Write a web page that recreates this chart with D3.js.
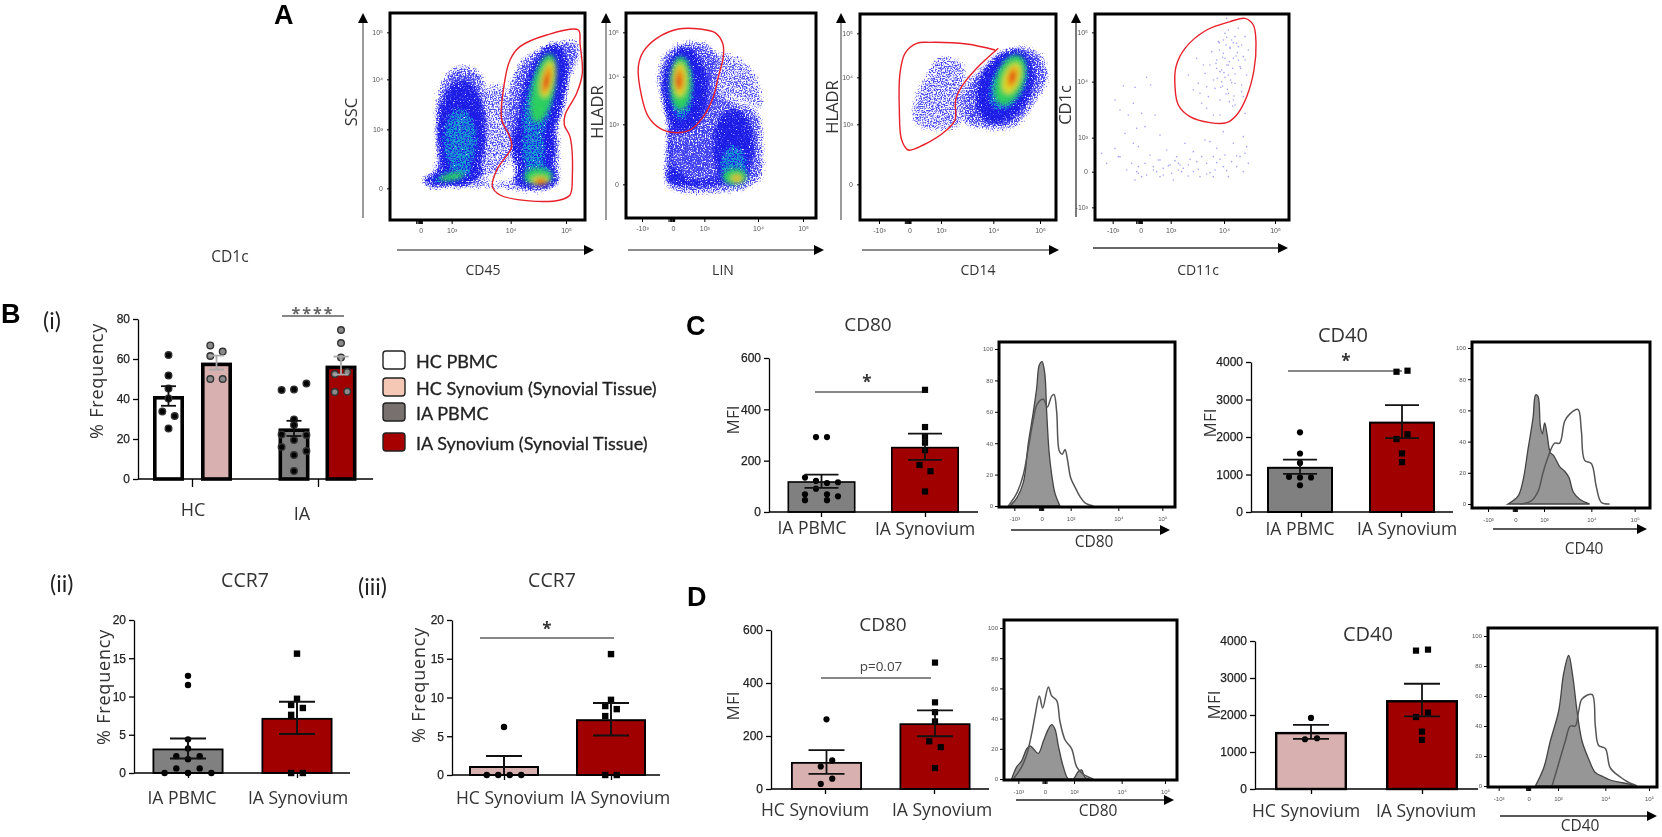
<!DOCTYPE html>
<html>
<head>
<meta charset="utf-8">
<title>CD1c figure</title>
<script src="https://cdn.jsdelivr.net/npm/d3@7"></script>
<style>
  html, body { margin: 0; padding: 0; background: #fff; overflow: hidden; }
  svg { display: block; filter: blur(0.35px); }
  .lbl { font-family: "Open Sans", sans-serif; fill: #333; }
  .tick-num { font-family: "Liberation Sans", sans-serif; }
</style>
</head>
<body>
<div id="chart"></div>
<script>
// ---- bar chart values, rows = dots lying side by side (null = empty slot)
const freqMeans = [41.5, 58.2, 25.3, 56.7];
const freqSems = [4.9, 3.5, 3.8, 4.5];
const freqRows = [
  [[62], [51.8], [45.3], [40.3], [33.7, null], [null, 31.5], [25.3]],
  [[66.8, null], [null, 63.7], [61.5, null], [50, 50]],
  [[44.5, 44.8, 47.7], [29.8], [27], [22.3, null, 22], [19.5], [16, null, 14], [12], [4]],
  [[74.5], [68], [60.8], [52.5, 53.5], [43.5, 43.7]]
];
const ccr7PbmcRows = [[12.7], [11.5], [4.4], [3.2], [2.2, 1.8, 2.2], [0.6, null, 0.6], [0, null, 0, null, 0]];
const ccr7SynRows = [[15.6], [9.7], [8.9, 8.5], [7.6, null], [0, 0]];
const ccr7HcRows = [[6.2], [0, 0, 0, 0]];
const cd80PbmcRows = [[null, 292, 292, null], [134, null, null, null], [null, 121, 113, 116], [null, 91, null, null], [69, null, 69, null], [null, null, null, 61], [46, null, 46, null]];
const cd80SynRows = [[476], [331], [293], [270], [241], [183, null], [null, 159], [80]];
const cd40PbmcRows = [[2125], [1560], [1310], [937, 920, 920], [714]];
const cd40SynRows = [[3740, 3768], [1946, 2071], [1562], [1330]];
const cd80HcRows = [[263], [null, 108], [85, null], [null, 39], [19, null]];
const cd80Syn2Rows = [[477], [327], [290], [255], [180, null], [null, 158], [79]];
const cd40HcRows = [[1920], [1345, 1372]];
const cd40Syn2Rows = [[3740, 3767], [1946, 2063], [1552], [1327]];

// ---- histogram curves: channel and % of max
const h1GrayX = [1080, 1100, 1120, 1135, 1150, 1160, 1168, 1176, 1184, 1190, 1197, 1205, 1215, 1230];
const h1GrayY = [0, 5, 15, 40, 60, 75, 90, 92, 85, 60, 35, 20, 8, 0];
const h1LineX = [1075, 1100, 1120, 1135, 1150, 1162, 1180, 1192, 1205, 1212, 1220, 1228, 1237, 1245, 1252, 1262, 1275, 1290, 1305, 1330];
const h1LineY = [0, 8, 20, 37, 55, 65, 68, 63, 70, 71, 60, 35, 33, 36, 30, 18, 12, 6, 2, 0];
const h2GrayX = [1135, 1165, 1180, 1195, 1210, 1218, 1225, 1232, 1238, 1245, 1252, 1262, 1272, 1290, 1305, 1318, 1330, 1350, 1380];
const h2GrayY = [0, 5, 15, 35, 55, 70, 69, 50, 45, 52, 45, 33, 31, 24, 21, 17, 8, 3, 0];
const h2LineX = [1170, 1205, 1225, 1240, 1255, 1275, 1290, 1305, 1320, 1345, 1355, 1365, 1385, 1400, 1415, 1440];
const h2LineY = [0, 2, 8, 20, 30, 39, 39, 53, 57.6, 60.6, 47, 28, 26, 11, 1, 0];
const h3GrayX = [1085, 1100, 1115, 1130, 1140, 1150, 1165, 1180, 1195, 1205, 1215, 1225, 1240, 1255, 1270, 1285, 1295, 1305, 1320];
const h3GrayY = [0, 8, 12, 20, 22, 20, 17, 25, 33, 36, 33, 22, 8, 0, 0, 5, 6, 1, 0];
const h3LineX = [1090, 1115, 1130, 1145, 1155, 1168, 1178, 1195, 1205, 1220, 1230, 1245, 1265, 1280, 1300, 1330];
const h3LineY = [0, 8, 16, 30, 42, 55, 47, 61, 55, 52, 38, 26, 20, 8, 3, 0];
const h4GrayX = [1215, 1240, 1260, 1285, 1300, 1315, 1328, 1340, 1355, 1375, 1395, 1420, 1440, 1480, 1520];
const h4GrayY = [0, 12, 30, 50, 75, 87, 72, 50, 30, 18, 9, 6, 4, 2, 0];
const h4LineX = [1265, 1285, 1305, 1320, 1335, 1345, 1355, 1385, 1395, 1405, 1425, 1440, 1470, 1490, 1520];
const h4LineY = [0, 15, 30, 40, 40, 50, 58, 61, 40, 27, 25, 12, 6, 3, 0];
const histTicks = [0, 20, 40, 60, 80, 100];

// ---- flow plots: gates, clouds (outer outlines) and density blobs, in channels
const gate1 = [[600,140],[680,105],[775,90],[780,130],[787,220],[770,280],[735,345],[733,375],[750,410],[757,530],[750,585],[720,600],[620,602],[540,585],[517,560],[530,510],[575,440],[565,400],[545,360],[550,270],[570,180]];
const gate2 = [[175,87],[240,87],[285,98],[308,130],[310,170],[295,230],[280,290],[250,350],[210,390],[165,398],[120,385],[85,350],[65,290],[55,200],[70,155],[110,115]];
const gate3 = [[645,150],[560,132],[450,127],[410,130],[375,160],[360,220],[358,330],[365,420],[385,450],[430,435],[500,390],[525,360],[527,300],[545,260],[590,205],[655,145]];
const gate4 = [[1350,65],[1395,55],[1420,75],[1428,130],[1422,210],[1400,290],[1370,345],[1340,368],[1290,368],[1230,350],[1195,315],[1185,260],[1188,200],[1215,145],[1280,90]];
const cloud1 = [[290,565],[325,530],[345,460],[340,370],[345,280],[385,205],[440,190],[490,215],[505,290],[495,420],[490,530],[600,520],[560,430],[555,290],[590,190],[650,140],[730,115],[780,115],[785,170],[750,250],[725,340],[725,420],[725,500],[715,565],[660,582],[560,575],[430,568],[340,575]];
const faint1 = [[495,250],[560,250],[575,500],[480,540]];
const cloud2 = [[125,160],[170,125],[250,120],[305,165],[300,280],[360,300],[420,330],[435,440],[430,540],[360,578],[140,572],[125,530],[135,420],[130,340],[105,230]];
const faint2 = [[290,150],[380,175],[425,240],[435,340],[340,310],[200,420],[280,410],[275,520],[170,520],[180,400]];
const cloud3 = [[640,170],[720,130],[790,160],[812,230],[765,320],[705,390],[600,392],[545,372],[535,290],[565,230]];
const faint3 = [[400,385],[388,310],[430,220],[470,160],[560,185],[565,260],[545,388]];
// level, centre x, centre y, radius x, radius y, tilt
const blobs1 = [
  [0,425,400,80,165,0],[0,400,530,105,28,-8],[0,670,290,70,170,14],[0,640,440,72,110,0],[0,650,535,75,38,0],
  [1,420,420,60,105,0],[1,395,530,80,20,-10],[1,655,310,50,150,12],[1,640,450,45,75,0],[1,655,525,52,38,0],
  [2,670,265,34,105,12],[2,655,530,42,25,0],[2,395,530,38,10,-10],
  [3,682,238,19,55,12],[3,660,542,26,13,0],
  [4,680,240,12,40,12],[4,662,544,19,9,0],
  [5,680,246,6,20,10],[5,663,545,11,5,0]
];
const blobs2 = [
  [0,195,270,74,135,0],[0,340,440,68,120,0],[0,165,530,32,32,0],[0,235,548,95,17,0],[0,150,445,14,80,0],
  [1,185,265,45,110,0],[1,340,495,50,70,0],[1,165,535,18,18,0],
  [2,182,250,32,80,0],[2,345,530,36,24,0],
  [3,180,240,20,50,0],[3,350,535,17,11,0],
  [4,178,240,13,34,0],[4,350,533,10,5,0],
  [5,176,245,6,15,0]
];
const blobs3 = [
  [0,675,260,85,125,25],
  [1,685,250,60,100,25],
  [2,690,240,42,78,20],
  [3,695,235,25,48,20],
  [4,697,232,14,30,15],
  [5,697,230,6,14,0]
];
// single events of the sparse CD1c / CD11c plot
const sparseX = [1030,1065,1100,1112,1060,1020,1005,1045,1085,1125,1070,1035,1095,1140,1060,1005,1020,1055,1075,1110,1135,1160,1190,1215,1240,1265,1290,1310,1335,1360,1075,1095,1120,1150,1170,1195,1225,1250,1280,1300,1330,1355,1380,1395,1070,1085,1130,1175,1210,1260,1305,1345,1390,1405,1065,1100,1180,1240,1300,1370,965,980,1015,1040,1075,1140,1195,1275,1330,1390,1400,1255,1275,1290,1310,1330,1350,1370,1390,1260,1280,1300,1320,1340,1360,1380,1400,1265,1285,1305,1325,1345,1365,1385,1250,1270,1295,1315,1335,1355,1375,1395,1405,1280,1300,1320,1345,1365,1390,1395,1310,1335,1360,1385,1385,1320,1345,1375,1395,1340,1365,1225,1240,
  1318,1328,1338,1348,1358,1368,1325,1335,1345,1355,1365,1375,1312,1322,1332,1342,1352,1362,1372,1382,1330,1340,1350,1360,1308,1318,1328,1338,1348,1358,1150,1165,1185,1205,1230,1255,1280,1310,1340,1370,1120,1140,1200,1225,1290,1320];
const sparseY = [258,262,232,255,310,330,300,345,340,345,385,400,380,405,430,445,470,490,440,465,480,450,470,430,455,470,425,445,465,430,500,490,510,505,495,490,495,485,490,470,500,485,470,460,515,530,515,520,505,530,510,530,515,490,540,525,540,515,530,500,460,490,470,510,520,480,510,420,395,410,440,250,220,195,180,160,145,130,170,280,260,240,215,195,175,200,225,310,290,265,245,225,250,275,175,195,155,125,100,120,140,110,150,325,345,300,280,315,290,340,205,175,300,255,135,345,90,85,180,55,110,225,270,
  150,172,135,185,205,168,210,232,195,248,222,180,235,262,218,268,240,288,158,205,120,112,142,128,190,128,258,282,305,318,525,497,482,515,478,508,522,488,512,468,500,530,495,528,518,478];

// ---- tick labels of the flow plots
const flowTickLabels = ['-10\u00b3', '0', '10\u00b3', '10\u2074', '10\u2075'];

// ---- text
const legendLabels = ['HC PBMC', 'HC Synovium (Synovial Tissue)', 'IA PBMC', 'IA Synovium (Synovial Tissue)'];
const legendColors = ['#ffffff', '#f4c8b5', '#77706f', '#a60000'];
const levelColors = ['#1c1ce6', '#14a0d0', '#2ed45a', '#e6e01e', '#f68a10', '#e81a10'];

const colWhite = '#ffffff', colPink = '#d8b0b0', colGrey = '#808080', colRed = '#a00000';

const svg = d3.select('#chart').append('svg').attr('width', 1662).attr('height', 837);
const defs = svg.append('defs');

// grain used for the clouds of events
function addGrain(id, blur, seed, slope, intercept) {
  const f = defs.append('filter').attr('id', id).attr('x', '-15%').attr('y', '-15%').attr('width', '130%').attr('height', '130%')
    .attr('color-interpolation-filters', 'sRGB');
  f.append('feGaussianBlur').attr('in', 'SourceGraphic').attr('stdDeviation', blur).attr('result', 'soft');
  f.append('feTurbulence').attr('type', 'fractalNoise').attr('baseFrequency', 0.75).attr('numOctaves', 2).attr('seed', seed).attr('result', 'noise');
  f.append('feColorMatrix').attr('in', 'noise').attr('type', 'matrix').attr('values', '0 0 0 0 0  0 0 0 0 0  0 0 0 0 0  1 0 0 0 0').attr('result', 'mask');
  f.append('feComposite').attr('in', 'soft').attr('in2', 'mask').attr('operator', 'in').attr('result', 'grain');
  const t = f.append('feComponentTransfer').attr('in', 'grain');
  t.append('feFuncA').attr('type', 'linear').attr('slope', slope).attr('intercept', intercept);
}
addGrain('grainOuter', 6, 3, 5, -1.6);
addGrain('grainFaint', 5, 5, 5, -2.1);
addGrain('grainCore', 5, 8, 5, -1.2);
addGrain('grainTeal', 4, 12, 6, -2.3);
defs.append('filter').attr('id', 'soft').attr('x', '-30%').attr('y', '-30%').attr('width', '160%').attr('height', '160%')
  .append('feGaussianBlur').attr('stdDeviation', 2.6);

function addText(txt, x, y, size, opts = {}) {
  const t = svg.append('text').attr('class', 'lbl').attr('x', x).attr('y', y)
    .style('font-size', size + 'px').style('text-anchor', opts.anchor || 'middle').text(txt);
  if (opts.rotate) t.attr('transform', `rotate(-90, ${x}, ${y})`);
  if (opts.family) t.style('font-family', opts.family);
  if (opts.weight) t.style('font-weight', opts.weight);
  if (opts.fill) t.style('fill', opts.fill);
  if (opts.spacing) t.style('letter-spacing', opts.spacing + 'px');
  return t;
}

// ---- flow plot
function flowPlot(c) {
  const x = d3.scaleLinear().domain(c.xDomain).range([c.left, c.right]);
  const y = d3.scaleLinear().domain(c.yDomain).range([c.top, c.bottom]);
  const g = svg.append('g');
  const line = d3.line().x(d => x(d[0])).y(d => y(d[1])).curve(d3.curveCatmullRomClosed);

  if (c.faint) {
    g.append('path').attr('d', line(c.faint)).attr('fill', '#4a4af5').attr('filter', 'url(#grainFaint)');
  }
  if (c.cloud) {
    g.append('path').attr('d', line(c.cloud)).attr('fill', '#4040f2').attr('filter', 'url(#grainOuter)');
  }
  if (c.blobs) {
    const drawBlobs = (parent, rows) => parent.selectAll('ellipse').data(rows).join('ellipse')
      .attr('cx', d => x(d[1])).attr('cy', d => y(d[2]))
      .attr('rx', d => x(d[1] + d[3]) - x(d[1])).attr('ry', d => y(d[2] + d[4]) - y(d[2]))
      .attr('transform', d => `rotate(${d[5]}, ${x(d[1])}, ${y(d[2])})`)
      .attr('fill', d => levelColors[d[0]]);
    drawBlobs(g.append('g').attr('filter', 'url(#grainCore)'), c.blobs.filter(d => d[0] === 0));
    drawBlobs(g.append('g').attr('filter', 'url(#grainTeal)'), c.blobs.filter(d => d[0] === 1));
    drawBlobs(g.append('g').attr('filter', 'url(#soft)').attr('opacity', 0.95), c.blobs.filter(d => d[0] > 1));
  }
  if (c.sparseX) {
    g.selectAll('circle').data(c.sparseX).join('circle')
      .attr('cx', d => x(d)).attr('cy', (d, i) => y(c.sparseY[i]))
      .attr('r', 0.8).attr('fill', '#5a5af0').attr('opacity', 0.55);
  }
  const gatePath = c.gateOpen ? d3.line().x(d => x(d[0])).y(d => y(d[1])).curve(d3.curveCatmullRom) : line;
  g.append('path').attr('d', gatePath(c.gate)).attr('fill', 'none').attr('stroke', '#e8202a').attr('stroke-width', 1.4);

  // frame
  g.append('rect').attr('x', c.left).attr('y', c.top).attr('width', c.right - c.left).attr('height', c.bottom - c.top)
    .attr('fill', 'none').attr('stroke', '#000').attr('stroke-width', 3);

  // axes, tick values are channels
  const xA = g.append('g').attr('transform', `translate(0, ${c.bottom + 1})`)
    .call(d3.axisBottom(x).tickValues(c.xTicks).tickSize(3).tickFormat((d, i) => c.xLabels[i]));
  const yA = g.append('g').attr('transform', `translate(${c.left - 1}, 0)`)
    .call(d3.axisLeft(y).tickValues(c.yTicks).tickSize(2).tickFormat((d, i) => c.yLabels[i]));
  [xA, yA].forEach(a => {
    a.select('.domain').remove();
    a.selectAll('text').style('font-size', '7px').style('font-family', 'Liberation Sans').style('fill', '#555');
  });
  xA.selectAll('text').attr('dy', '0.9em');
  yA.selectAll('text').attr('x', -6);
  // dense marks around zero
  const zero = c.xTicks[c.xLabels.indexOf('0')];
  g.append('g').selectAll('line').data(c.zeroMarks).join('line')
    .attr('x1', d => x(zero + d)).attr('x2', d => x(zero + d)).attr('y1', c.bottom + 1).attr('y2', c.bottom + 4).attr('stroke', '#000');

  // arrows
  arrow(c.yArrow[0], c.yArrow[1], c.yArrow[0], c.yArrow[2], c.arrowColor);
  arrow(c.xArrow[0], c.xArrow[2], c.xArrow[1], c.xArrow[2], c.arrowColor);
  addText(c.yTitle, c.yTitleX, c.yTitleY, 16.5, { rotate: true });
  addText(c.xTitle, c.xTitleX, 275, 14);
}

function arrow(x1, y1, x2, y2, color) {
  const a = Math.atan2(y2 - y1, x2 - x1) * 180 / Math.PI;
  svg.append('line').attr('x1', x1).attr('y1', y1).attr('x2', x2).attr('y2', y2).attr('stroke', color || '#666').attr('stroke-width', 1.3);
  svg.append('path').attr('d', 'M0,-5L10,0L0,5Z').attr('fill', '#000').attr('transform', `translate(${x2 - 8 * Math.cos(a * Math.PI / 180)}, ${y2 - 8 * Math.sin(a * Math.PI / 180)}) rotate(${a})`);
}

// ---- bars with SEM and dots
function barPanel(c) {
  const y = d3.scaleLinear().domain([0, c.yMax]).range([c.yZero, c.yTop]);
  const x = d3.scaleOrdinal().domain(c.cats).range(c.centres);
  const g = svg.append('g');
  const w = c.barWidth, sw = c.barStroke;

  g.selectAll('rect.bar').data(c.cats).join('rect').attr('class', 'bar')
    .attr('x', d => x(d) - w / 2 + sw / 2).attr('width', w - sw)
    .attr('y', (d, i) => y(c.means[i]) + sw / 2).attr('height', (d, i) => Math.max(0, y(0) - y(c.means[i]) - sw / 2))
    .attr('fill', (d, i) => c.colors[i]).attr('stroke', '#000').attr('stroke-width', sw);

  // dots first, error bars over them
  c.cats.forEach((cat, i) => {
    const dots = [];
    c.rows[i].forEach(row => row.forEach((v, k) => {
      if (v !== null) dots.push({ v, off: (k - (row.length - 1) / 2) * c.step });
    }));
    const dotCol = c.dotColors ? c.dotColors[i] : '#000';
    const lineCol = c.errColors ? c.errColors[i] : '#111';
    const sel = g.append('g').selectAll('.dot').data(dots).join(c.squares && c.squares[i] ? 'rect' : 'circle');
    if (c.squares && c.squares[i]) {
      sel.attr('x', d => x(cat) + d.off - c.dot).attr('y', d => y(d.v) - c.dot)
        .attr('width', c.dot * 2).attr('height', c.dot * 2);
    } else {
      sel.attr('cx', d => x(cat) + d.off).attr('cy', d => y(d.v)).attr('r', c.dot);
    }
    sel.attr('fill', dotCol).attr('stroke', c.dotColors ? '#333' : 'none').attr('stroke-width', 1.4);

    const up = y(c.means[i] + c.sems[i]), lo = y(Math.max(0, c.means[i] - c.sems[i]));
    const cap = c.capWidth / 2;
    const err = g.append('g').attr('stroke', lineCol).attr('stroke-width', c.errStroke || 1.8);
    err.append('line').attr('x1', x(cat)).attr('x2', x(cat)).attr('y1', up).attr('y2', lo);
    err.append('line').attr('x1', x(cat) - cap).attr('x2', x(cat) + cap).attr('y1', up).attr('y2', up);
    if (c.means[i] - c.sems[i] > 0) err.append('line').attr('x1', x(cat) - cap).attr('x2', x(cat) + cap).attr('y1', lo).attr('y2', lo);
  });

  const yAxis = g.append('g').attr('transform', `translate(${c.axisX}, 0)`)
    .call(d3.axisLeft(y).tickValues(c.ticks).tickSize(5).tickSizeOuter(0).tickFormat(d3.format('d')));
  yAxis.selectAll('text').attr('class', 'tick-num').style('font-size', '12px').style('fill', '#222').style('stroke', '#222').style('stroke-width', 0.25);
  yAxis.selectAll('line').attr('stroke-width', 1.3);
  yAxis.select('.domain').attr('stroke-width', 1.3);

  g.append('line').attr('x1', c.axisX).attr('x2', c.xEnd).attr('y1', y(0)).attr('y2', y(0)).attr('stroke', '#000').attr('stroke-width', 1.4);
  const xAxis = g.append('g').attr('transform', `translate(0, ${c.yZero})`)
    .call(d3.axisBottom(d3.scaleOrdinal().domain(c.tickCats).range(c.tickPx)).tickSize(c.tickLen || 5).tickFormat(''));
  xAxis.select('.domain').remove();
  xAxis.selectAll('line').attr('stroke-width', 1.3);

  c.labels.forEach(l => addText(l[0], l[1], l[2], c.labelSize || 17.5));
  addText(c.yTitle, c.yTitleX, c.yTitleY, c.yTitleSize || 18, { rotate: true, spacing: c.yTitleSpacing });
  if (c.sig) {
    g.append('line').attr('x1', c.sig[0]).attr('x2', c.sig[1]).attr('y1', c.sig[2]).attr('y2', c.sig[2]).attr('stroke', '#111').attr('stroke-width', 1.2);
    addText(c.sig[3], (c.sigTextX || (c.sig[0] + c.sig[1]) / 2), c.sig[2] + (c.sigDy || -3), c.sigSize || 17, { fill: c.sigFill || '#333', weight: c.sigWeight || 700, spacing: c.sigSpacing });
  }
}

// ---- histogram overlay
function histPanel(c) {
  const x = d3.scaleLinear().domain(c.xDomain).range([c.left, c.right]);
  const y = d3.scaleLinear().domain([0, 100]).range([c.yZero, c.yHundred]);
  const g = svg.append('g');
  const pts = (xs, ys) => xs.map((d, i) => [d, ys[i]]);
  const area = d3.area().x(d => x(d[0])).y0(y(0)).y1(d => y(d[1])).curve(d3.curveCatmullRom);
  const line = d3.line().x(d => x(d[0])).y(d => y(d[1])).curve(d3.curveCatmullRom);
  g.append('path').attr('d', area(pts(c.grayX, c.grayY))).attr('fill', '#969696').attr('stroke', '#444').attr('stroke-width', 1.3);
  g.append('path').attr('d', line(pts(c.lineX, c.lineY))).attr('fill', 'none').attr('stroke', '#555').attr('stroke-width', 1.5);
  g.append('rect').attr('x', c.left).attr('y', c.top).attr('width', c.right - c.left).attr('height', c.bottom - c.top)
    .attr('fill', 'none').attr('stroke', '#000').attr('stroke-width', 3);

  const yA = g.append('g').attr('transform', `translate(${c.left - 1}, 0)`)
    .call(d3.axisLeft(y).tickValues(histTicks).tickSize(3).tickFormat(d3.format('d')));
  const xA = g.append('g').attr('transform', `translate(0, ${c.bottom + 1})`)
    .call(d3.axisBottom(x).tickValues(c.xTicks).tickSize(3).tickFormat((d, i) => flowTickLabels[i]));
  [xA, yA].forEach(a => {
    a.select('.domain').remove();
    a.selectAll('text').style('font-size', '6px').style('font-family', 'Liberation Sans').style('fill', '#555');
  });
  xA.selectAll('text').attr('dy', '1.1em');
  yA.selectAll('text').attr('x', -5);
  const zero = c.xTicks[1];
  g.append('g').selectAll('line').data([-6, -3, 0, 3, 6]).join('line')
    .attr('x1', d => x(zero + d)).attr('x2', d => x(zero + d)).attr('y1', c.bottom + 1).attr('y2', c.bottom + 4).attr('stroke', '#000');

  arrow(c.arrow[0], c.arrow[2], c.arrow[1], c.arrow[2], '#222');
  addText(c.title, c.titleX, c.titleY, 15.5);
}

// ---- panel A
const zeroMarks = [-12, -8, -5, -3, 0, 3, 5];
flowPlot({ left: 390, right: 585, top: 13, bottom: 220, xDomain: [210, 795], yDomain: [39, 660],
  gate: gate1, cloud: cloud1, faint: faint1, blobs: blobs1, zeroMarks,
  xTicks: [302, 395, 572, 738], xLabels: ['0', '10\u00b3', '10\u2074', '10\u2075'],
  yTicks: [97, 238, 388, 565], yLabels: ['10\u2075', '10\u2074', '10\u00b3', '0'],
  yArrow: [363, 218, 15], xArrow: [397, 592, 250], yTitle: 'SSC', yTitleX: 357, yTitleY: 112, xTitle: 'CD45', xTitleX: 483 });
flowPlot({ left: 626, right: 816, top: 13, bottom: 218, xDomain: [18, 588], yDomain: [39, 654],
  gate: gate2, cloud: cloud2, faint: faint2, blobs: blobs2, zeroMarks,
  xTicks: [66, 159, 253, 414, 549], xLabels: flowTickLabels,
  yTicks: [97, 230, 373, 553], yLabels: ['10\u2075', '10\u2074', '10\u00b3', '0'],
  yArrow: [606, 220, 15], xArrow: [628, 822, 250], yTitle: 'HLADR', yTitleX: 603, yTitleY: 112, xTitle: 'LIN', xTitleX: 723 });
flowPlot({ left: 860, right: 1056, top: 14, bottom: 220, xDomain: [240, 828], yDomain: [42, 660],
  gate: gate3, gateOpen: true, cloud: cloud3, faint: faint3, blobs: blobs3, zeroMarks,
  xTicks: [297, 388, 483, 640, 780], xLabels: flowTickLabels,
  yTicks: [100, 232, 373, 553], yLabels: ['10\u2075', '10\u2074', '10\u00b3', '0'],
  yArrow: [841, 220, 15], xArrow: [862, 1057, 250], arrowColor: '#666', yTitle: 'HLADR', yTitleX: 838, yTitleY: 107, xTitle: 'CD14', xTitleX: 978 });
flowPlot({ left: 1095, right: 1289, top: 14, bottom: 220, xDomain: [945, 1527], yDomain: [42, 660],
  gate: gate4, sparseX, sparseY, zeroMarks,
  xTicks: [998, 1082, 1172, 1332, 1485], xLabels: flowTickLabels,
  yTicks: [97, 245, 413, 515, 622], yLabels: ['10\u2075', '10\u2074', '10\u00b3', '0', '-10\u00b3'],
  yArrow: [1076, 217, 15], xArrow: [1093, 1286, 248], arrowColor: '#333', yTitle: 'CD1c', yTitleX: 1071, yTitleY: 105, xTitle: 'CD11c', xTitleX: 1198 });

// ---- panel letters and loose text
const letter = { family: '"Liberation Sans", sans-serif', weight: 700, fill: '#000', anchor: 'start' };
addText('A', 274, 24, 27, letter);
addText('B', 1, 323, 27, letter);
addText('C', 686, 335, 27, letter);
addText('D', 687, 606, 27, letter);
addText('CD1c', 230, 262, 15.5);
const roman = { family: 'Lato, sans-serif', anchor: 'start', fill: '#222' };
addText('(i)', 43, 329, 23, roman);
addText('(ii)', 50, 592, 23, roman);
addText('(iii)', 358, 595, 23, roman);
addText('CCR7', 245, 587, 19.5);
addText('CCR7', 552, 587, 19.5);
addText('CD80', 868, 331, 19);
addText('CD40', 1343, 342, 20);
addText('CD80', 883, 631, 19);
addText('CD40', 1368, 641, 20);

// ---- panel B(i)
barPanel({ cats: ['HC PBMC', 'HC Synovium', 'IA PBMC', 'IA Synovium'], centres: [168.5, 216.5, 294, 341], barWidth: 31, barStroke: 3.6,
  means: freqMeans, sems: freqSems, rows: freqRows, colors: [colWhite, colPink, colGrey, colRed],
  dotColors: ['#000', '#8a8a8a', '#000', '#8a8a8a'], errColors: ['#111', '#aaa', '#111', '#aaa'],
  yMax: 80, yZero: 479, yTop: 319, axisX: 138, xEnd: 373, ticks: [0, 20, 40, 60, 80],
  tickCats: ['HC', 'IA'], tickPx: [192, 318], tickLen: 8, step: 12.4, dot: 3.3, capWidth: 15,
  labels: [['HC', 193, 516], ['IA', 302, 520]], labelSize: 18,
  yTitle: '% Frequency', yTitleX: 103, yTitleY: 381, yTitleSpacing: 0.8,
  sig: [282, 344, 316, '****'], sigDy: 3, sigTextX: 313, sigSize: 16, sigFill: '#666', sigSpacing: 2 });

// legend
const legend = svg.append('g').selectAll('g').data(legendLabels).join('g');
const legendTops = [351, 378, 403, 433];
legend.append('rect').attr('x', 383).attr('y', (d, i) => legendTops[i]).attr('width', 22).attr('height', 18).attr('rx', 3)
  .attr('fill', (d, i) => legendColors[i]).attr('stroke', '#222').attr('stroke-width', 1.4);
legend.append('text').attr('x', 416).attr('y', (d, i) => legendTops[i] + 17).text(d => d)
  .style('font-family', 'Lato, sans-serif').style('font-size', '18px').style('font-weight', 400)
  .style('fill', '#222').style('stroke', '#222').style('stroke-width', 0.3);

// ---- panel B(ii), B(iii)
barPanel({ cats: ['IA PBMC', 'IA Synovium'], centres: [188, 297], barWidth: 71, barStroke: 1.8,
  means: [3.2, 7.2], sems: [1.3, 2.1], rows: [ccr7PbmcRows, ccr7SynRows], colors: [colGrey, colRed], squares: [false, true],
  yMax: 20, yZero: 773, yTop: 620, axisX: 134, xEnd: 350, ticks: [0, 5, 10, 15, 20],
  tickCats: ['IA PBMC', 'IA Synovium'], tickPx: [188, 297], step: 11.7, dot: 3.2, capWidth: 36, errStroke: 2,
  labels: [['IA PBMC', 182, 804], ['IA Synovium', 298, 804]],
  yTitle: '% Frequency', yTitleX: 110, yTitleY: 687, yTitleSpacing: 0.8 });
barPanel({ cats: ['HC Synovium', 'IA Synovium'], centres: [504, 611], barWidth: 70, barStroke: 2,
  means: [1.16, 7.2], sems: [1.3, 2.1], rows: [ccr7HcRows, ccr7SynRows], colors: [colPink, colRed], squares: [false, true],
  yMax: 20, yZero: 775, yTop: 620, axisX: 452, xEnd: 660, ticks: [0, 5, 10, 15, 20],
  tickCats: ['HC Synovium', 'IA Synovium'], tickPx: [504, 611], step: 11.5, dot: 3.2, capWidth: 36, errStroke: 2,
  labels: [['HC Synovium', 510, 804], ['IA Synovium', 620, 804]],
  yTitle: '% Frequency', yTitleX: 425, yTitleY: 685, yTitleSpacing: 0.8,
  sig: [480, 614, 638, '*'], sigDy: -3, sigTextX: 547, sigFill: '#333' });

// ---- panel C
barPanel({ cats: ['IA PBMC', 'IA Synovium'], centres: [821.5, 925], barWidth: 68, barStroke: 1.6,
  means: [120, 254], sems: [26, 51], rows: [cd80PbmcRows, cd80SynRows], colors: [colGrey, colRed], squares: [false, true],
  yMax: 600, yZero: 512, yTop: 358, axisX: 769, xEnd: 978, ticks: [0, 200, 400, 600],
  tickCats: ['IA PBMC', 'IA Synovium'], tickPx: [821, 925], step: 11, dot: 3.1, capWidth: 34,
  labels: [['IA PBMC', 812, 534], ['IA Synovium', 925, 535]],
  yTitle: 'MFI', yTitleX: 739, yTitleY: 420, yTitleSize: 17,
  sig: [815, 928, 392, '*'], sigDy: -4, sigTextX: 867 });
histPanel({ left: 999, right: 1175, top: 342, bottom: 507, xDomain: [1047, 1575], yZero: 506, yHundred: 349,
  grayX: h1GrayX, grayY: h1GrayY, lineX: h1LineX, lineY: h1LineY, xTicks: [1093, 1175, 1262, 1405, 1537],
  arrow: [1011, 1168, 530], title: 'CD80', titleX: 1094, titleY: 547 });
barPanel({ cats: ['IA PBMC', 'IA Synovium'], centres: [1300, 1402], barWidth: 66, barStroke: 2,
  means: [1205, 2410], sems: [190, 440], rows: [cd40PbmcRows, cd40SynRows], colors: [colGrey, colRed], squares: [false, true],
  yMax: 4000, yZero: 512, yTop: 362, axisX: 1251, xEnd: 1453, ticks: [0, 1000, 2000, 3000, 4000],
  tickCats: ['IA PBMC', 'IA Synovium'], tickPx: [1301, 1401], step: 11, dot: 3.1, capWidth: 34,
  labels: [['IA PBMC', 1300, 535], ['IA Synovium', 1407, 535]],
  yTitle: 'MFI', yTitleX: 1216, yTitleY: 423, yTitleSize: 17,
  sig: [1288, 1402, 371, '*'], sigDy: -4, sigTextX: 1346 });
histPanel({ left: 1472, right: 1650, top: 342, bottom: 508, xDomain: [1027, 1561], yZero: 504, yHundred: 348,
  grayX: h2GrayX, grayY: h2GrayY, lineX: h2LineX, lineY: h2LineY, xTicks: [1075, 1157, 1243, 1385, 1515],
  arrow: [1493, 1645, 529], title: 'CD40', titleX: 1584, titleY: 554 });

// ---- panel D
barPanel({ cats: ['HC Synovium', 'IA Synovium'], centres: [826.5, 935], barWidth: 71, barStroke: 1.8,
  means: [102, 248], sems: [45, 49], rows: [cd80HcRows, cd80Syn2Rows], colors: [colPink, colRed], squares: [false, true],
  yMax: 600, yZero: 789, yTop: 630, axisX: 771, xEnd: 989, ticks: [0, 200, 400, 600],
  tickCats: ['HC Synovium', 'IA Synovium'], tickPx: [825, 934], step: 11.5, dot: 3.1, capWidth: 36,
  labels: [['HC Synovium', 815, 816], ['IA Synovium', 942, 816]],
  yTitle: 'MFI', yTitleX: 739, yTitleY: 706, yTitleSize: 17,
  sig: [821, 931, 678, 'p=0.07'], sigDy: -7, sigTextX: 881, sigSize: 13.5, sigFill: '#444', sigWeight: 400 });
histPanel({ left: 1004, right: 1177, top: 620, bottom: 780, xDomain: [1062, 1581], yZero: 779, yHundred: 628,
  grayX: h3GrayX, grayY: h3GrayY, lineX: h3LineX, lineY: h3LineY, xTicks: [1105, 1185, 1272, 1415, 1545],
  arrow: [1016, 1172, 800], title: 'CD80', titleX: 1098, titleY: 816 });
barPanel({ cats: ['HC Synovium', 'IA Synovium'], centres: [1311, 1422], barWidth: 72, barStroke: 2.4,
  means: [1543, 2404], sems: [190, 440], rows: [cd40HcRows, cd40Syn2Rows], colors: [colPink, colRed], squares: [false, true],
  yMax: 4000, yZero: 789, yTop: 641, axisX: 1255, xEnd: 1478, ticks: [0, 1000, 2000, 3000, 4000],
  tickCats: ['HC Synovium', 'IA Synovium'], tickPx: [1311, 1422], step: 12, dot: 3.1, capWidth: 36,
  labels: [['HC Synovium', 1306, 817], ['IA Synovium', 1426, 817]],
  yTitle: 'MFI', yTitleX: 1220, yTitleY: 705, yTitleSize: 17 });
histPanel({ left: 1488, right: 1657, top: 628, bottom: 787, xDomain: [1073, 1580], yZero: 786, yHundred: 636,
  grayX: h4GrayX, grayY: h4GrayY, lineX: h4LineX, lineY: h4LineY, xTicks: [1105, 1195, 1283, 1425, 1556],
  arrow: [1500, 1655, 816], title: 'CD40', titleX: 1580, titleY: 831 });
</script>
</body>
</html>
